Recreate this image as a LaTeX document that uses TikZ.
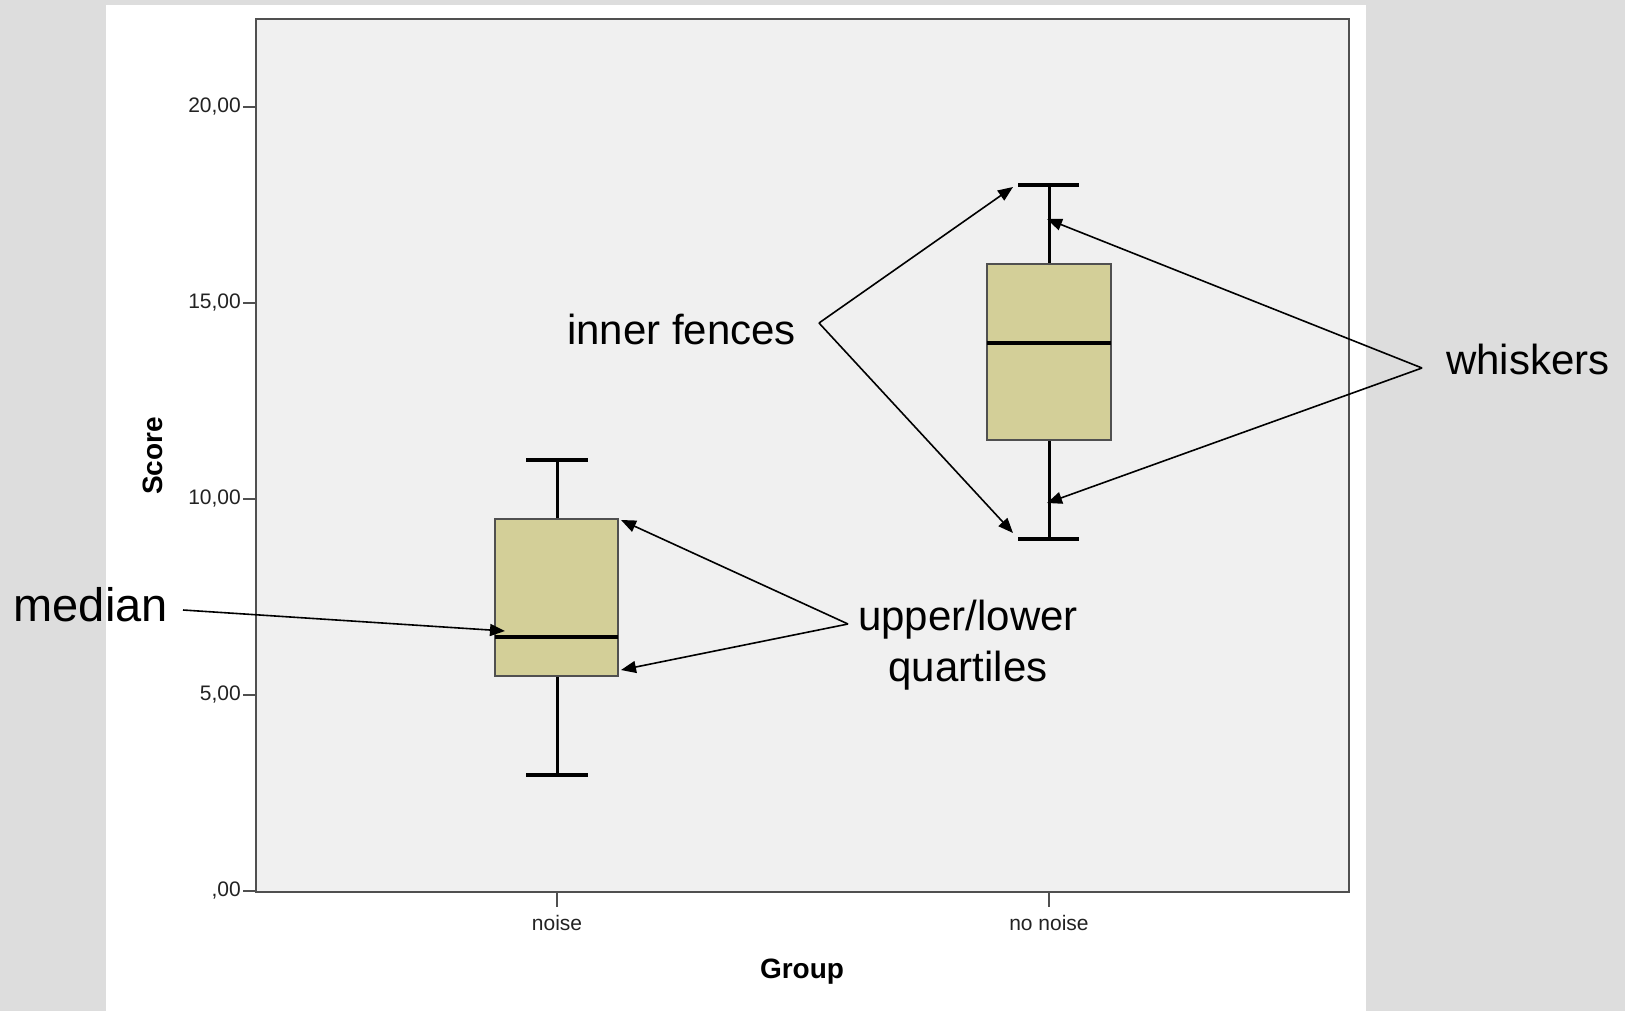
\documentclass[tikz,border=0pt]{standalone}
\usepackage{fontspec}
\setmainfont{Liberation Sans}
\usetikzlibrary{arrows.meta}
\definecolor{bggray}{HTML}{DDDDDD}
\definecolor{plotbg}{HTML}{F0F0F0}
\definecolor{boxfill}{HTML}{D3CF98}
\definecolor{framecol}{HTML}{505050}
\definecolor{ticktext}{HTML}{222222}
\begin{document}
\begin{tikzpicture}[x=1pt,y=-1pt,
  annot/.style={font=\fontsize{42}{51}\selectfont, inner sep=0pt, text=black},
  ticklab/.style={font=\fontsize{21}{24}\selectfont, text=ticktext, inner sep=0pt},
  axtitle/.style={font=\fontsize{28}{32}\selectfont\bfseries, text=black, inner sep=0pt},
  arr/.style={line width=1.6pt, -{Triangle[length=15pt,width=12pt]}},
  boxst/.style={fill=boxfill, draw=framecol, line width=2pt},
  whisk/.style={line width=3pt, black},
  capst/.style={line width=3.5pt, black},
  medst/.style={line width=4pt, black}]
\useasboundingbox (0,0) rectangle (1625,1011);
\fill[bggray] (0,0) rectangle (1625,1011);
\fill[white] (106,5) rectangle (1366,1011);
\fill[plotbg] (256,19) rectangle (1349,892);
\draw[framecol, line width=2.5pt] (256,19) rectangle (1349,892);

% y ticks and labels
\foreach \v/\t in {0/{,00},5/{5,00},10/{10,00},15/{15,00},20/{20,00}} {
  \draw[framecol, line width=2pt] (243,{891-39.2*\v}) -- (256,{891-39.2*\v});
  \node[ticklab, anchor=east] at (241,{891-39.2*\v}) {\t};
}
% x ticks and labels
\draw[framecol, line width=1.5pt] (557,892) -- (557,907);
\draw[framecol, line width=1.5pt] (1049,892) -- (1049,907);
\node[ticklab] (lnoise) at (557,923) {noise};
\node[ticklab] (lnonoise) at (1049,923) {no noise};
\node[axtitle] (xtitle) at (802,972) {Group};
\node[axtitle, rotate=90] (ytitle) at (153,456) {Score};

% box plot: noise
\draw[whisk] (557,460) -- (557,775);
\draw[capst] (526,460) -- (588,460);
\draw[capst] (526,775) -- (588,775);
\draw[boxst] (495,519) rectangle (618,676);
\draw[medst] (495,637) -- (618,637);

% box plot: no noise
\draw[whisk] (1049,185) -- (1049,539);
\draw[capst] (1018,185) -- (1079,185);
\draw[capst] (1018,539) -- (1079,539);
\draw[boxst] (987,264) rectangle (1111,440);
\draw[medst] (987,343) -- (1111,343);

% annotation texts
\node[annot, font=\fontsize{47}{54}\selectfont, anchor=base east] (tmedian) at (168,621) {median};
\node[annot, anchor=base, align=center] (tquart) at (968,681) {upper/lower\\quartiles};
\node[annot, anchor=base east] (tfences) at (796,344) {inner fences};
\node[annot, anchor=base west] (twhisk) at (1446,374) {whiskers};

% annotation anchor points
\coordinate (jmed) at (183,610);
\coordinate (tipmed) at (505,631);
\coordinate (jq) at (848,624);
\coordinate (tipq1) at (621,520);
\coordinate (tipq2) at (621,670);
\coordinate (jf) at (819,323);
\coordinate (tipf1) at (1013,187);
\coordinate (tipf2) at (1013,533);
\coordinate (jw) at (1422,368);
\coordinate (tipw1) at (1047,219);
\coordinate (tipw2) at (1047,503);

\draw[arr] (jmed) -- (tipmed);
\draw[arr] (jq) -- (tipq1);
\draw[arr] (jq) -- (tipq2);
\draw[arr] (jf) -- (tipf1);
\draw[arr] (jf) -- (tipf2);
\draw[arr] (jw) -- (tipw1);
\draw[arr] (jw) -- (tipw2);
\end{tikzpicture}
\end{document}
